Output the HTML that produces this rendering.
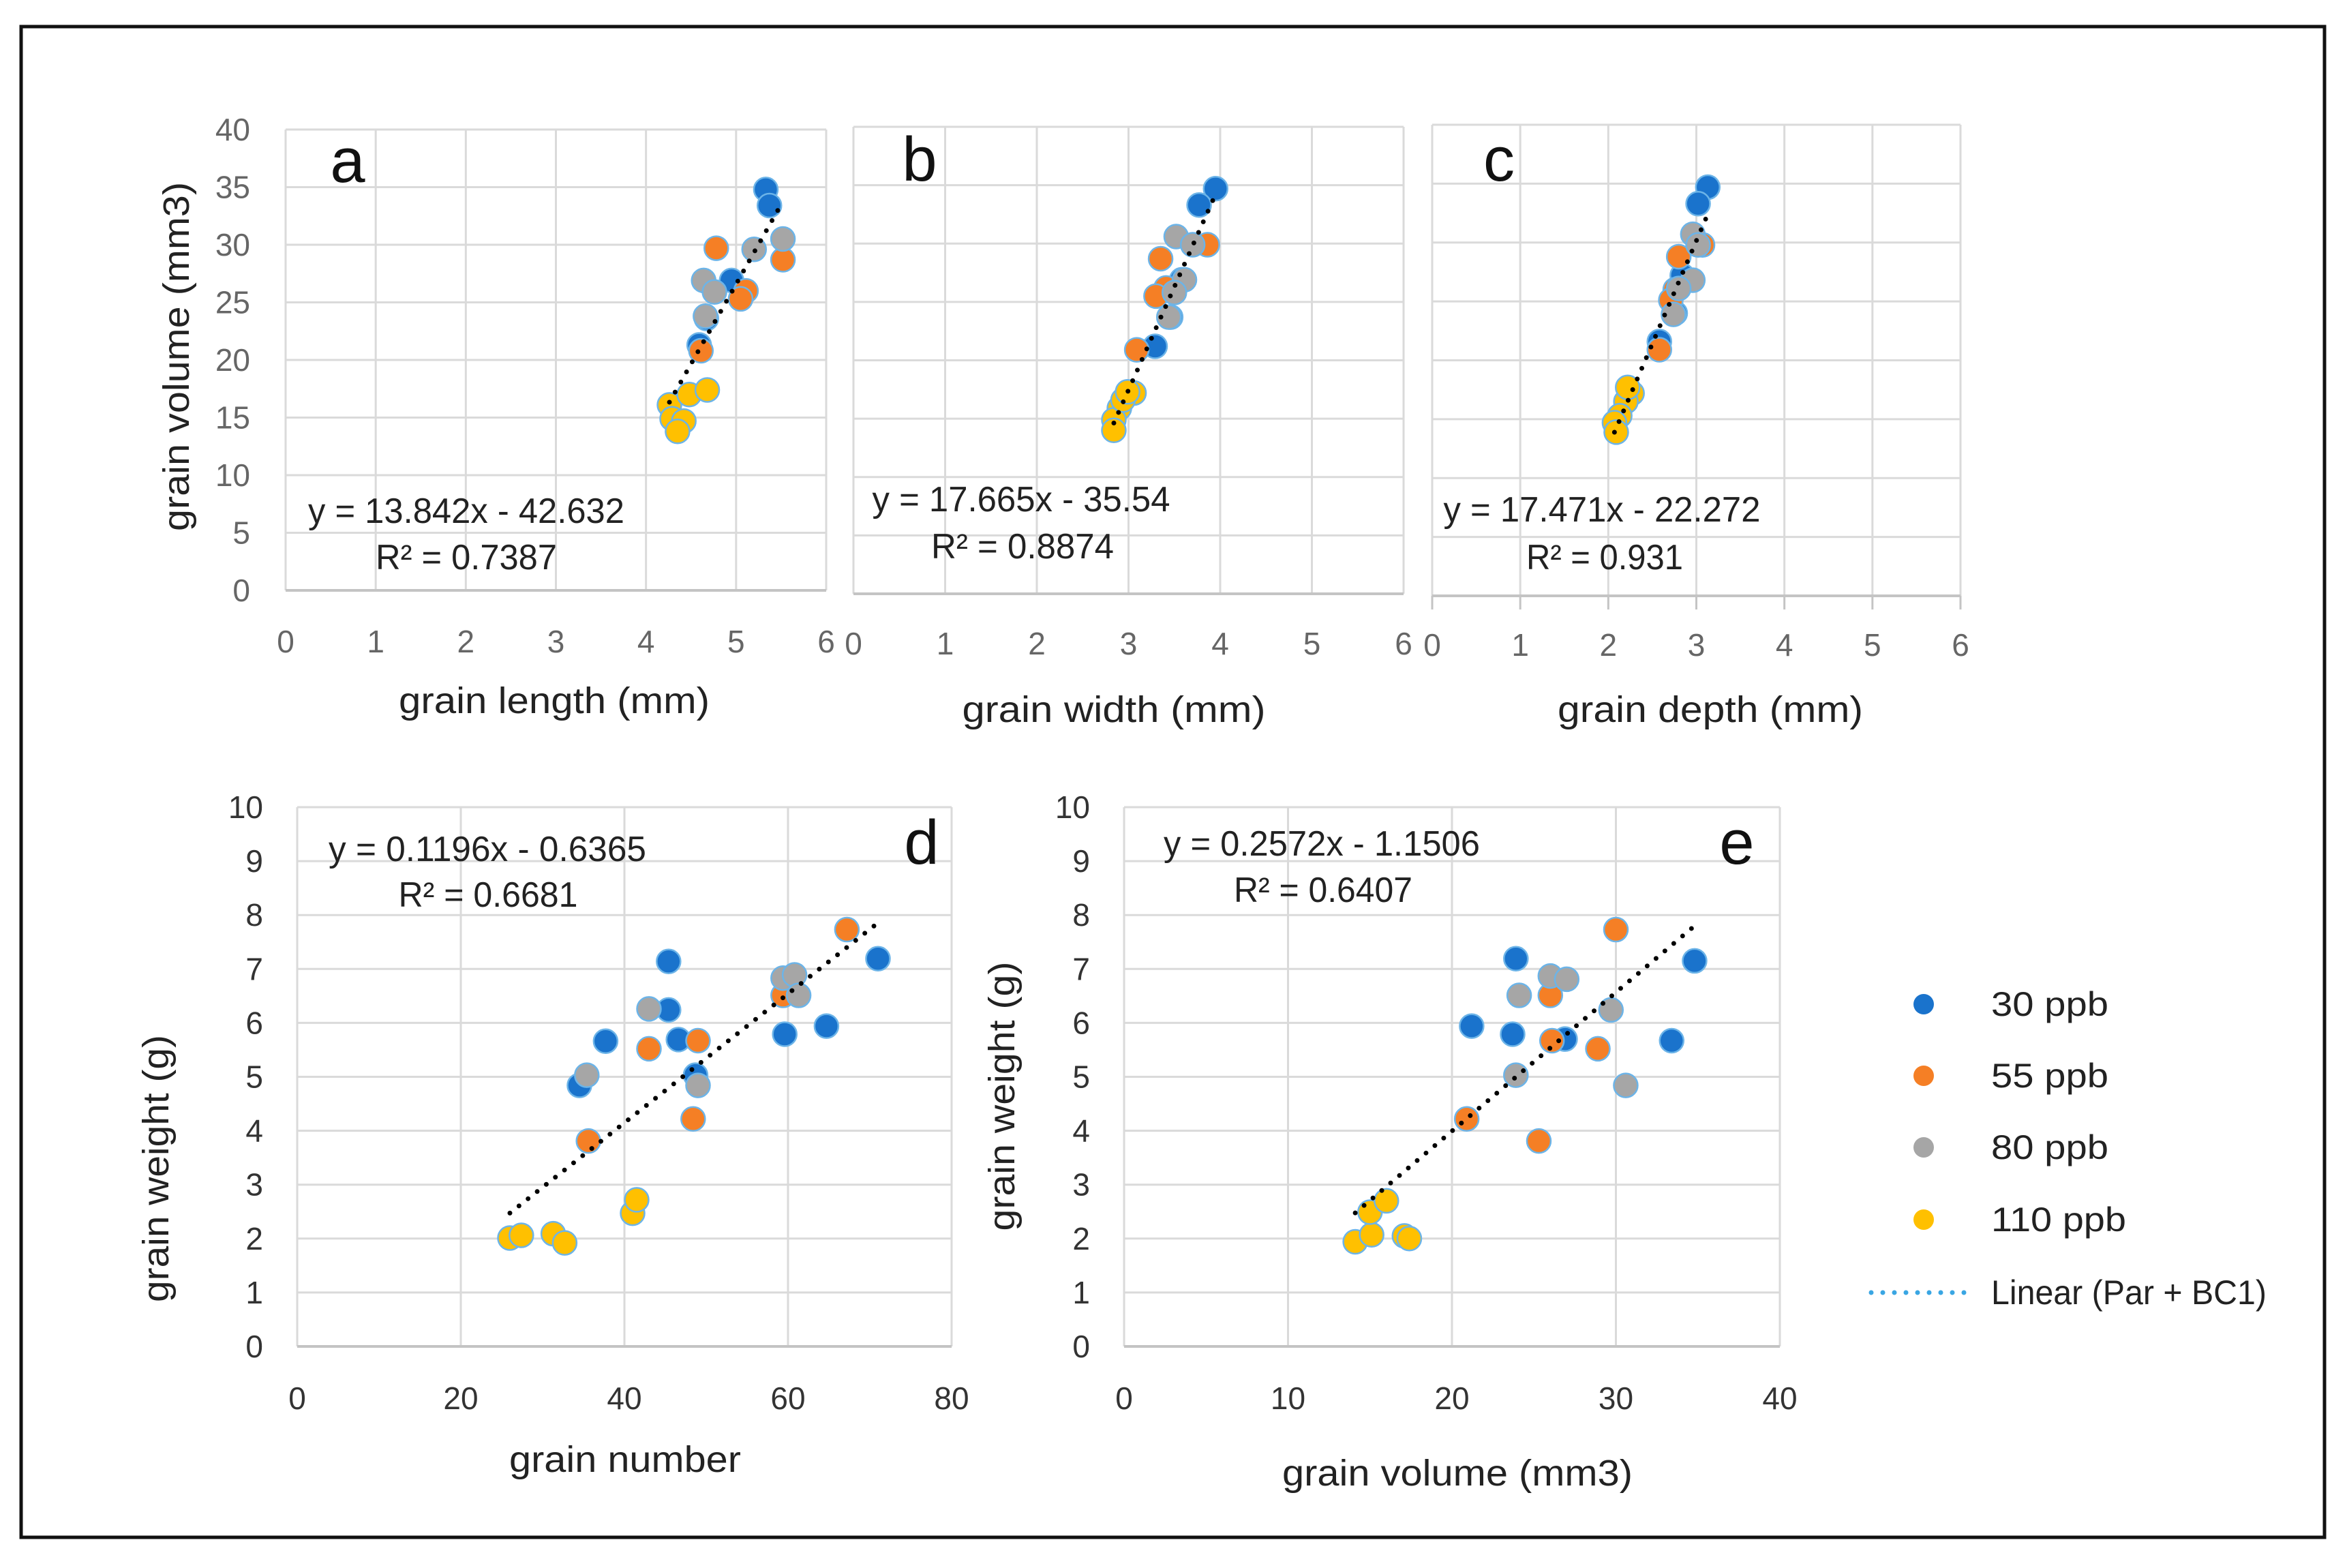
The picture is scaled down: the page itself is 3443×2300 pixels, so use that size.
<!DOCTYPE html>
<html><head><meta charset="utf-8">
<style>
html,body{margin:0;padding:0;background:#fff;}
svg{display:block;}
text{font-family:"Liberation Sans",sans-serif;}
</style></head>
<body>
<svg id="fig" xmlns="http://www.w3.org/2000/svg" width="3443" height="2300" viewBox="0 0 3443 2300">
<rect x="0" y="0" width="3443" height="2300" fill="#fff"/>
<rect x="31" y="39" width="3379" height="2216" fill="none" stroke="#111" stroke-width="5"/>
<g id="legend">
  <g><circle cx="2822" cy="1473" r="15" fill="#1A73CC"/><text x="2921" y="1490" font-size="50" fill="#222" textLength="172" lengthAdjust="spacingAndGlyphs">30 ppb</text></g>
  <g><circle cx="2822" cy="1578" r="15" fill="#F57F25"/><text x="2921" y="1595" font-size="50" fill="#222" textLength="172" lengthAdjust="spacingAndGlyphs">55 ppb</text></g>
  <g><circle cx="2822" cy="1683" r="15" fill="#A6A6A6"/><text x="2921" y="1700" font-size="50" fill="#222" textLength="172" lengthAdjust="spacingAndGlyphs">80 ppb</text></g>
  <g><circle cx="2822" cy="1789" r="15" fill="#FFC000"/><text x="2921" y="1806" font-size="50" fill="#222" textLength="198" lengthAdjust="spacingAndGlyphs">110 ppb</text></g>
  <g><line x1="2745" y1="1896" x2="2892" y2="1896" stroke="#3AA6E3" stroke-width="7" stroke-linecap="round" stroke-dasharray="0 17"/><text x="2921" y="1913" font-size="50" fill="#222" textLength="404" lengthAdjust="spacingAndGlyphs">Linear (Par + BC1)</text></g>
</g>
</svg>
<script>
// ---- Panel a: grain length vs grain volume ----
const aBlueX=[5.33,5.37,4.95,4.67,4.59];
const aBlueY=[34.8,33.4,26.9,23.6,21.3];
const aOrangeX=[4.78,5.52,5.11,5.05,4.61];
const aOrangeY=[29.7,28.7,26.0,25.3,20.8];
const aGrayX=[5.52,5.20,4.64,4.76,4.66];
const aGrayY=[30.5,29.6,26.9,25.9,23.8];
const aYellowX=[4.26,4.48,4.68,4.29,4.42,4.35];
const aYellowY=[16.1,17.0,17.4,14.9,14.7,13.8];
const aFit=[13.842,-42.632];
// ---- Panel b: grain width ----
const bBlueX=[3.95,3.77,3.29,3.58,3.46];
const bBlueY=[34.7,33.3,21.2,26.9,23.7];
const bOrangeX=[3.86,3.35,3.41,3.30,3.09];
const bOrangeY=[29.9,28.7,26.2,25.5,20.9];
const bGrayX=[3.52,3.70,3.61,3.50,3.44];
const bGrayY=[30.6,29.9,26.9,25.8,23.7];
const bYellowX=[3.06,2.90,2.84,2.84,2.94,2.99];
const bYellowY=[17.2,15.9,14.9,14.0,16.6,17.3];
const bFit=[17.665,-35.54];
// ---- Panel c: grain depth ----
const cBlueX=[3.13,3.02,2.58,2.84,2.76];
const cBlueY=[34.7,33.3,21.6,27.2,24.0];
const cOrangeX=[3.07,2.80,2.76,2.71,2.58];
const cOrangeY=[29.8,28.8,26.0,25.1,20.9];
const cGrayX=[2.96,3.02,2.96,2.80,2.74];
const cGrayY=[30.7,29.8,26.8,26.1,23.9];
const cYellowX=[2.27,2.20,2.13,2.07,2.09,2.22];
const cYellowY=[17.2,16.5,15.3,14.7,13.9,17.7];
const cFit=[17.471,-22.272];
// ---- Panel d: grain number vs grain weight ----
const dBlueX=[45.4,71.0,64.7,59.6,46.6,37.7,48.7,45.4,34.5];
const dBlueY=[7.14,7.19,5.94,5.79,5.69,5.66,5.03,6.24,4.84];
const dOrangeX=[67.2,59.4,43.0,49.0,48.4,35.6];
const dOrangeY=[7.73,6.51,5.52,5.67,4.22,3.81];
const dGrayX=[59.4,60.8,61.3,43.0,35.4,49.0];
const dGrayY=[6.83,6.89,6.51,6.26,5.03,4.84];
const dYellowX=[26.0,27.4,31.3,32.7,41.0,41.5];
const dYellowY=[2.01,2.06,2.09,1.92,2.47,2.72];
const dFit=[0.1196,-0.6365];
// ---- Panel e: grain volume vs grain weight ----
const eBlueX=[23.9,34.8,21.2,23.7,26.9,33.4];
const eBlueY=[7.19,7.15,5.94,5.79,5.70,5.67];
const eOrangeX=[30.0,26.0,26.1,28.9,20.9,25.3];
const eOrangeY=[7.73,6.51,5.67,5.52,4.22,3.81];
const eGrayX=[26.0,27.0,24.1,29.7,23.9,30.6];
const eGrayY=[6.87,6.81,6.51,6.24,5.03,4.84];
const eYellowX=[14.1,15.1,17.1,17.4,15.0,16.0];
const eYellowY=[1.94,2.07,2.05,2.00,2.49,2.70];
const eFit=[0.2572,-1.1506];
const xTicks6=[0,1,2,3,4,5,6];
const yTicks40=[0,5,10,15,20,25,30,35,40];
const xTicks80=[0,20,40,60,80];
const xTicks40=[0,10,20,30,40];
const yTicks10=[0,1,2,3,4,5,6,7,8,9,10];

const NS="http://www.w3.org/2000/svg";
const svg=document.getElementById('fig');
function mk(tag,attrs,parent){const e=document.createElementNS(NS,tag);for(const k in attrs)e.setAttribute(k,attrs[k]);(parent||svg).appendChild(e);return e;}
const COLORS={blue:"#1A73CC",orange:"#F57F25",gray:"#A6A6A6",yellow:"#FFC000"};

function panel(p){
  const g=mk('g',{});
  
  
  const sx=v=>p.x0+(v-p.xmin)/(p.xmax-p.xmin)*(p.x1-p.x0);
  const sy=v=>p.y0-(v-p.ymin)/(p.ymax-p.ymin)*(p.y0-p.y1);
  p.xt.forEach(t=>{const l=mk('line',{x1:sx(t),x2:sx(t),y1:p.y1,y2:p.y0,stroke:'#DADADA','stroke-width':3},g);
    
    });
  p.yt.forEach(t=>{const l=mk('line',{x1:p.x0,x2:p.x1,y1:sy(t),y2:sy(t),stroke:'#DADADA','stroke-width':3},g);
    
    });
  const ax=mk('line',{x1:p.x0,x2:p.x1,y1:p.y0,y2:p.y0,stroke:'#C4C4C4','stroke-width':4},g);
  
  
  if(p.tickMarks){p.xt.forEach(t=>{const l=mk('line',{x1:sx(t),x2:sx(t),y1:p.y0,y2:p.y0+20,stroke:'#C4C4C4','stroke-width':3},g);
    
    });}
  p.xt.forEach(t=>{const e=mk('text',{x:sx(t),y:p.xLabY+16,'font-size':46,fill:p.tickCol,'text-anchor':'middle'},g);e.textContent=t;
    
    });
  if(p.showY){p.yt.forEach(t=>{const e=mk('text',{x:p.yLabR,y:sy(t)+16,'font-size':46,fill:p.tickCol,'text-anchor':'end'},g);e.textContent=t;
    
    });}
  const xt=mk('text',{x:p.xTitle[0],y:p.xTitle[1]+18,'font-size':54,fill:'#222','text-anchor':'middle',textLength:p.xTitle[2],lengthAdjust:'spacingAndGlyphs'},g);xt.textContent=p.xTitleText;
  
  
  if(p.yTitle){const yt=mk('text',{x:0,y:0,'font-size':54,fill:'#222','text-anchor':'middle',textLength:p.yTitle[2],lengthAdjust:'spacingAndGlyphs',transform:`translate(${p.yTitle[0]+18},${p.yTitle[1]}) rotate(-90)`},g);yt.textContent=p.yTitleText;
    
    }
  const series=[['blue',p.d[0],p.d[1]],['orange',p.d[2],p.d[3]],['gray',p.d[4],p.d[5]],['yellow',p.d[6],p.d[7]]];
  let allX=[];
  series.forEach(([c,xs,ys])=>{xs.forEach((xv,i)=>{allX.push(xv);
    const ci=mk('circle',{cx:sx(xv),cy:sy(ys[i]),r:17.5,fill:COLORS[c],stroke:'#6CB4E8','stroke-width':2.5},g);
    
    });});
  const xa=Math.min(...allX),xb=Math.max(...allX);
  const tl=mk('line',{x1:sx(xa),y1:sy(p.fit[0]*xa+p.fit[1]),x2:sx(xb),y2:sy(p.fit[0]*xb+p.fit[1]),stroke:'#000','stroke-width':7,'stroke-linecap':'round','stroke-dasharray':'0 17'},g);
  
  
  const eq=mk('text',{x:p.eq[0],y:p.eq[1]+18,'font-size':52,fill:'#222','text-anchor':'middle',textLength:p.eq[2],lengthAdjust:'spacingAndGlyphs'},g);
  eq.textContent=`y = ${p.fit[0]}x - ${Math.abs(p.fit[1])}`;
  
  
  const r2=mk('text',{x:p.r2[0],y:p.r2[1]+18,'font-size':52,fill:'#222','text-anchor':'middle',textLength:p.r2[2],lengthAdjust:'spacingAndGlyphs'},g);
  r2.textContent='R² = '+p.r2v;
  
  
  const lt=mk('text',{x:p.letter[0],y:p.letter[1]+30,'font-size':92,fill:'#111','text-anchor':'middle'},g);lt.textContent=p.id;
  
  
}

panel({id:'a',x0:419,x1:1212,y0:866,y1:190,xmin:0,xmax:6,ymin:0,ymax:40,xt:xTicks6,yt:yTicks40,tickCol:'#666',
  xLabY:941,showY:true,yLabR:367,xTitle:[813,1028,456],xTitleText:'grain length (mm)',yTitle:[259,523,512],yTitleText:'grain volume (mm3)',
  d:[aBlueX,aBlueY,aOrangeX,aOrangeY,aGrayX,aGrayY,aYellowX,aYellowY],fit:aFit,eq:[684,749,464],r2:[684,817,266],r2v:'0.7387',letter:[510,237]});
panel({id:'b',x0:1252,x1:2059,y0:871,y1:186,xmin:0,xmax:6,ymin:0,ymax:40,xt:xTicks6,yt:yTicks40,tickCol:'#666',
  xLabY:944,showY:false,xTitle:[1634,1041,445],xTitleText:'grain width (mm)',
  d:[bBlueX,bBlueY,bOrangeX,bOrangeY,bGrayX,bGrayY,bYellowX,bYellowY],fit:bFit,eq:[1498,732,437],r2:[1500,801,268],r2v:'0.8874',letter:[1349,235]});
panel({id:'c',x0:2101,x1:2876,y0:874,y1:183,xmin:0,xmax:6,ymin:0,ymax:40,xt:xTicks6,yt:yTicks40,tickCol:'#666',tickMarks:true,
  xLabY:946,showY:false,xTitle:[2509,1041,448],xTitleText:'grain depth (mm)',
  d:[cBlueX,cBlueY,cOrangeX,cOrangeY,cGrayX,cGrayY,cYellowX,cYellowY],fit:cFit,eq:[2350,747,465],r2:[2354,817,230],r2v:'0.931',letter:[2199,235]});
panel({id:'d',x0:436,x1:1396,y0:1975,y1:1184,xmin:0,xmax:80,ymin:0,ymax:10,xt:xTicks80,yt:yTicks10,tickCol:'#333',
  xLabY:2051,showY:true,yLabR:386,xTitle:[917,2141,340],xTitleText:'grain number',yTitle:[229,1714,392],yTitleText:'grain weight (g)',
  d:[dBlueX,dBlueY,dOrangeX,dOrangeY,dGrayX,dGrayY,dYellowX,dYellowY],fit:dFit,eq:[715,1245,466],r2:[716,1312,263],r2v:'0.6681',letter:[1352,1237]});
panel({id:'e',x0:1649,x1:2611,y0:1975,y1:1184,xmin:0,xmax:40,ymin:0,ymax:10,xt:xTicks40,yt:yTicks10,tickCol:'#333',
  xLabY:2051,showY:true,yLabR:1599,xTitle:[2138,2161,514],xTitleText:'grain volume (mm3)',yTitle:[1470,1608,395],yTitleText:'grain weight (g)',
  d:[eBlueX,eBlueY,eOrangeX,eOrangeY,eGrayX,eGrayY,eYellowX,eYellowY],fit:eFit,eq:[1939,1237,464],r2:[1941,1305,262],r2v:'0.6407',letter:[2548,1237]});
</script>
</body></html>
